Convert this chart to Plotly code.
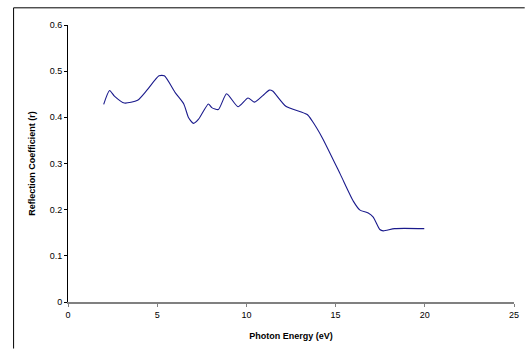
import plotly.graph_objects as go

energy = [2.0, 2.33, 2.6, 3.16, 3.9, 4.45, 5.1, 5.4, 6.02, 6.49, 6.76, 7.04, 7.32, 7.87,
          8.06, 8.43, 8.89, 9.53, 10.09, 10.46, 10.92, 11.29, 11.47, 12.21, 13.41, 13.69,
          14.25, 15.26, 16.0, 16.37, 16.83, 17.11, 17.48, 17.67, 18.31, 19.97]
reflection = [0.428, 0.458, 0.446, 0.431, 0.437, 0.46, 0.49, 0.49, 0.453, 0.429, 0.399, 0.387,
              0.396, 0.429, 0.421, 0.417, 0.451, 0.423, 0.442, 0.433, 0.447, 0.459, 0.457,
              0.424, 0.406, 0.392, 0.356, 0.277, 0.218, 0.199, 0.193, 0.184, 0.157, 0.154,
              0.159, 0.159]

x_ticks = [0, 5, 10, 15, 20, 25]
y_ticks = [0, 0.1, 0.2, 0.3, 0.4, 0.5, 0.6]
y_labels = ["0", "0.1", "0.2", "0.3", "0.4", "0.5", "0.6"]

fig = go.Figure()
fig.add_trace(go.Scatter(x=energy, y=reflection, mode="lines",
                         line=dict(color="#1a1a8c", width=1.1, shape="spline", smoothing=0.6),
                         showlegend=False, hoverinfo="skip"))

font = "Liberation Sans, Arial, sans-serif"
fig.update_layout(
    width=530, height=351,
    margin=dict(l=68, r=11, t=25, b=47),
    paper_bgcolor="white", plot_bgcolor="white",
    font=dict(family=font, size=9, color="black"),
    xaxis=dict(range=[0, 25], tickvals=x_ticks, ticktext=[str(v) for v in x_ticks],
               showgrid=False, zeroline=False, showline=True, linecolor="#808080", linewidth=1.5,
               ticks="outside", ticklen=3, tickcolor="#808080", tickwidth=1,
               tickfont=dict(size=9, family=font),
               title=dict(text="<b>Photon Energy (eV)</b>", font=dict(size=9, family=font), standoff=14)),
    yaxis=dict(range=[0, 0.6], tickvals=y_ticks, ticktext=y_labels,
               showgrid=False, zeroline=False, showline=True, linecolor="black", linewidth=1,
               ticks="outside", ticklen=3, tickcolor="black", tickwidth=1,
               tickfont=dict(size=9, family=font),
               title=dict(text="<b>Reflection Coefficient (r)</b>", font=dict(size=9, family=font), standoff=12)),
    shapes=[
        dict(type="line", xref="paper", yref="paper", x0=-0.122, x1=-0.122, y0=-0.168, y1=1.062,
             line=dict(color="black", width=1)),
        dict(type="line", xref="paper", yref="paper", x0=-0.122, x1=1.024, y0=1.062, y1=1.062,
             line=dict(color="black", width=1)),
    ],
)

fig.write_html("out.html", config={"displayModeBar": False},
               post_script="document.body.style.margin='0';document.body.style.overflow='hidden';")
